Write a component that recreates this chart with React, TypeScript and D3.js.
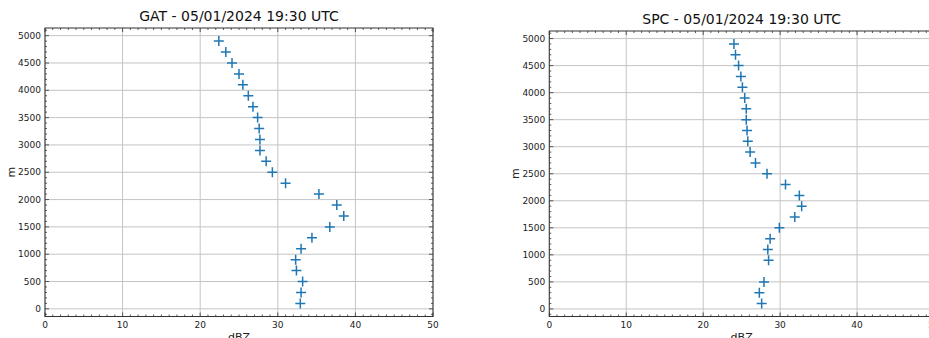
import * as d3 from "d3";
import { useEffect, useRef } from "react";

const heights = [4900, 4700, 4500, 4300, 4100, 3900, 3700, 3500, 3300, 3100, 2900, 2700, 2500, 2300, 2100, 1900, 1700, 1500, 1300, 1100, 900, 700, 500, 300, 100];
const gatDbz = [22.4, 23.3, 24.1, 25.0, 25.5, 26.2, 26.8, 27.4, 27.6, 27.7, 27.7, 28.5, 29.3, 31.0, 35.3, 37.6, 38.5, 36.7, 34.4, 33.0, 32.3, 32.4, 33.2, 33.0, 32.9];

const spcHeights = [4900, 4700, 4500, 4300, 4100, 3900, 3700, 3500, 3300, 3100, 2900, 2700, 2500, 2300, 2100, 1900, 1700, 1500, 1300, 1100, 900, 500, 300, 100];
const spcDbz = [24.0, 24.2, 24.6, 24.9, 25.1, 25.4, 25.6, 25.6, 25.7, 25.8, 26.1, 26.8, 28.3, 30.7, 32.5, 32.8, 31.9, 29.9, 28.7, 28.4, 28.5, 27.9, 27.3, 27.6];

const xTicks = [0, 10, 20, 30, 40, 50];
const yTicks = [0, 500, 1000, 1500, 2000, 2500, 3000, 3500, 4000, 4500, 5000];

type Panel = {
    title: string;
    heights: number[];
    dbz: number[];
    left: number;
    right: number;
    top: number;
    bottom: number;
};

const panels: Panel[] = [
    { title: "GAT - 05/01/2024 19:30 UTC", heights, dbz: gatDbz, left: 45, right: 433, top: 28, bottom: 316.5 },
    { title: "SPC - 05/01/2024 19:30 UTC", heights: spcHeights, dbz: spcDbz, left: 549.3, right: 934, top: 31, bottom: 316.5 },
];

const FONT = "DejaVu Sans";

function drawPanel(svg: d3.Selection<SVGSVGElement, unknown, null, undefined>, p: Panel) {
    const x = d3.scaleLinear().domain([0, 50]).range([p.left, p.right]);
    const y = d3.scaleLinear().domain([-140, 5140]).range([p.bottom, p.top]);

    const g = svg.append("g");

    // grid
    g.selectAll(".vgrid")
        .data(xTicks)
        .join("line")
        .attr("x1", (d) => x(d))
        .attr("x2", (d) => x(d))
        .attr("y1", p.top)
        .attr("y2", p.bottom)
        .attr("stroke", "#c4c4c4")
        .attr("stroke-width", 1);
    g.selectAll(".hgrid")
        .data(yTicks)
        .join("line")
        .attr("x1", p.left)
        .attr("x2", p.right)
        .attr("y1", (d) => y(d))
        .attr("y2", (d) => y(d))
        .attr("stroke", "#c4c4c4")
        .attr("stroke-width", 1);

    // minor + major ticks pointing inward on all four sides
    const xMinor = d3.range(0, 51, 1);
    const yMinor = d3.range(-100, 5101, 100);
    const tickColor = "#333";
    const ticks = g.append("g").attr("stroke", tickColor).attr("stroke-width", 0.8);
    xMinor.forEach((v) => {
        const len = v % 10 === 0 ? 4 : 2;
        ticks.append("line").attr("x1", x(v)).attr("x2", x(v)).attr("y1", p.bottom).attr("y2", p.bottom - len);
        ticks.append("line").attr("x1", x(v)).attr("x2", x(v)).attr("y1", p.top).attr("y2", p.top + len);
    });
    yMinor.forEach((v) => {
        const len = v % 500 === 0 ? 4 : 2;
        ticks.append("line").attr("y1", y(v)).attr("y2", y(v)).attr("x1", p.left).attr("x2", p.left + len);
        ticks.append("line").attr("y1", y(v)).attr("y2", y(v)).attr("x1", p.right).attr("x2", p.right - len);
    });

    // frame
    g.append("rect")
        .attr("x", p.left)
        .attr("y", p.top)
        .attr("width", p.right - p.left)
        .attr("height", p.bottom - p.top)
        .attr("fill", "none")
        .attr("stroke", "#333")
        .attr("stroke-width", 1);

    // tick labels
    g.selectAll(".xl")
        .data(xTicks)
        .join("text")
        .attr("x", (d) => x(d))
        .attr("y", p.bottom + 11)
        .attr("text-anchor", "middle")
        .style("font-family", FONT)
        .style("font-size", "9px")
        .style("fill", "#222")
        .text((d) => String(d));
    g.selectAll(".yl")
        .data(yTicks)
        .join("text")
        .attr("x", p.left - 4)
        .attr("y", (d) => y(d))
        .attr("dy", "0.35em")
        .attr("text-anchor", "end")
        .style("font-family", FONT)
        .style("font-size", "9px")
        .style("fill", "#222")
        .text((d) => String(d));

    // axis labels
    g.append("text")
        .attr("x", (p.left + p.right) / 2)
        .attr("y", p.bottom + 24)
        .attr("text-anchor", "middle")
        .style("font-family", FONT)
        .style("font-size", "11px")
        .style("fill", "#222")
        .text("dBZ");
    g.append("text")
        .attr("transform", `translate(${p.left - 30},${(p.top + p.bottom) / 2}) rotate(-90)`)
        .attr("text-anchor", "middle")
        .style("font-family", FONT)
        .style("font-size", "11px")
        .style("fill", "#222")
        .text("m");

    // title
    g.append("text")
        .attr("x", (p.left + p.right) / 2)
        .attr("y", p.top - 7)
        .attr("text-anchor", "middle")
        .style("font-family", FONT)
        .style("font-size", "14px")
        .style("fill", "#111")
        .text(p.title);

    // markers
    const pts = p.heights.map((h, i) => ({ h, v: p.dbz[i] }));
    g.selectAll(".pt")
        .data(pts)
        .join("path")
        .attr("transform", (d) => `translate(${x(d.v)},${y(d.h)})`)
        .attr("d", "M-5,0H5M0,-5V5")
        .attr("stroke", "#1f77b4")
        .attr("stroke-width", 1.5)
        .attr("fill", "none");
}

export default function App() {
    const ref = useRef<SVGSVGElement | null>(null);

    useEffect(() => {
        if (!ref.current) return;
        const svg = d3.select(ref.current);
        svg.selectAll("*").remove();
        panels.forEach((p) => drawPanel(svg, p));
    }, []);

    return (
        <svg
            ref={ref}
            width={929}
            height={338}
            style={{ position: "absolute", left: 0, top: 0, background: "#fff" }}
        ></svg>
    );
}
